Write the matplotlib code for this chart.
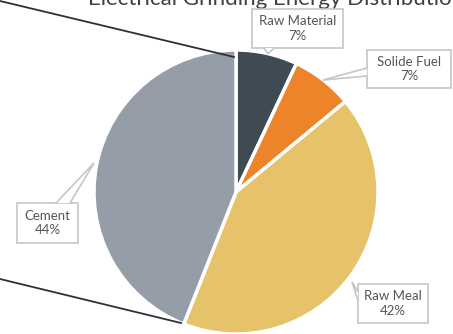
import numpy as np
import matplotlib.pyplot as plt
from matplotlib.patches import Rectangle, Polygon

labels = ['Raw Material', 'Solide Fuel', 'Raw Meal', 'Cement']
shares = [7, 7, 42, 44]
colors = ['#3f4b53', '#ec8429', '#e6c36a', '#959ea8']
explode = [0, 0, 0.035, 0]

W, H = 453, 334
fig = plt.figure(figsize=(W / 100, H / 100), dpi=100)
ax = fig.add_axes([0, 0, 1, 1])
ax.axis('off')

cx, cy, r = 236, H - 192, 142
wedges, _ = ax.pie(shares, colors=colors, explode=explode, startangle=90,
                   counterclock=False, center=(cx, cy), radius=r,
                   wedgeprops=dict(edgecolor='white', linewidth=2.5))
ax.set_xlim(0, W)
ax.set_ylim(0, H)
ax.set_aspect('auto')

# zoom lines from the other chart
ax.plot([0, 234], [H - 1, H - 57], color='#2b3238', lw=1.3)
ax.plot([0, 181], [H - 279, H - 323], color='#2b3238', lw=1.3)

ax.text(88, H - 5, 'Electrical Grinding Energy Distribution', fontsize=16,
        color='#404040', family='Lato', va='baseline', ha='left')

# callout boxes in pixels: x0, y0, x1, y1, pointer base (2 pts), tip
callouts = [
    (252, 9, 343, 48, [(264, 48), (274, 48)], (268, 54)),
    (367, 50, 451, 88, [(367, 68), (367, 76)], (323, 80)),
    (358, 284, 428, 323, [(358, 292), (358, 301)], (352, 282)),
    (17, 203, 78, 243, [(56, 203), (70, 203)], (94, 163)),
]
edge = '#c4c7ca'
for lab, val, (x0, y0, x1, y1, base, tip) in zip(labels, shares, callouts):
    ax.add_patch(Rectangle((x0, H - y1), x1 - x0, y1 - y0, fc='white', ec=edge,
                           lw=1.2, zorder=5))
    pts = [(base[0][0], H - base[0][1]), (tip[0], H - tip[1]), (base[1][0], H - base[1][1])]
    ax.add_patch(Polygon(pts, closed=True, fc='white', ec='none', zorder=6))
    for b in base:
        ax.plot([b[0], tip[0]], [H - b[1], H - tip[1]], color=edge, lw=1.2,
                zorder=7, solid_capstyle='butt')
    ax.text((x0 + x1) / 2, H - (y0 + y1) / 2, f'{lab}\n{val}%', ha='center',
            va='center', fontsize=9.5, color='#555555', family='Lato',
            linespacing=1.25, zorder=8)

fig.savefig('out.png', dpi=100)
